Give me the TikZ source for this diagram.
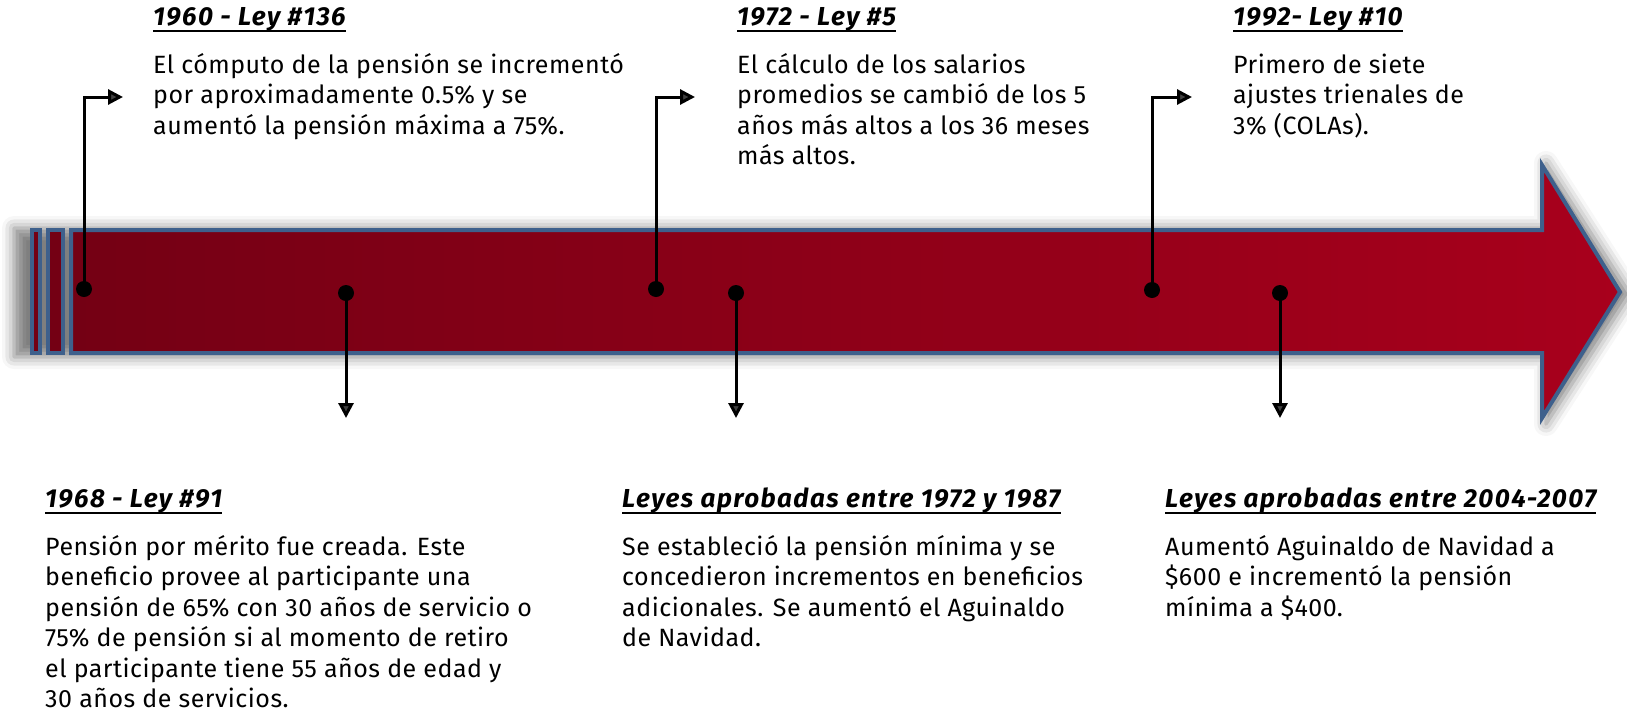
\documentclass[tikz,border=0pt]{standalone}
\usepackage{fontspec}
\setmainfont{Fira Sans}
\newfontfamily\bodyfont[LetterSpace=2]{Fira Sans}
\newfontfamily\headfont[LetterSpace=5.5]{Fira Sans}
\usetikzlibrary{arrows.meta,shadows.blur}
\definecolor{bord}{RGB}{62,96,140}
\definecolor{redL}{RGB}{116,0,20}
\definecolor{redR}{RGB}{168,0,28}
\tikzset{
  dot/.style={circle,fill=black,minimum size=16pt,inner sep=0pt},
  conn/.style={line width=3pt,-{Triangle[length=15pt,width=15pt]}},
  headtxt/.style={anchor=base west,inner sep=0pt,font=\headfont\fontsize{26}{30.5}\selectfont\bfseries\itshape},
  bodytxt/.style={anchor=base west,inner sep=0pt,font=\bodyfont\fontsize{25}{30.5}\selectfont},
  uline/.style={line width=2.5pt},
  band/.style={draw=bord,line width=4pt,left color=redL,right color=redR},
  stripe/.style={draw=bord,line width=4pt,fill=redL},
}
\begin{document}
\begin{tikzpicture}[x=1pt,y=-1pt]
\useasboundingbox (0,0) rectangle (1627,718);
% shadow
\path[blur shadow={shadow xshift=0pt,shadow yshift=0pt,shadow blur radius=12pt,shadow opacity=50}]
  (14,228) -- (1546,228) -- (1546,163) -- (1630,294) -- (1546,424) -- (1546,357) -- (14,357) -- cycle;
% stripes
\path[stripe] (32,230) rectangle (40,353);
\path[stripe] (48,230) rectangle (63,353);
% main arrow
\path[band] (71,230) -- (1542,230) -- (1542,165) -- (1620,292) -- (1542,418) -- (1542,353) -- (71,353) -- cycle;
% dots
\node[dot] (d1) at (84,289) {};
\node[dot] (d2) at (346,293) {};
\node[dot] (d3) at (656,289) {};
\node[dot] (d4) at (736,293) {};
\node[dot] (d5) at (1152,290) {};
\node[dot] (d6) at (1280,293) {};
\coordinate (e1) at (123,97);
\coordinate (e3) at (695,97);
\coordinate (e5) at (1192,97);
\coordinate (e2) at (346,418);
\coordinate (e4) at (736,418);
\coordinate (e6) at (1280,418);
\draw[conn] (d1.center) |- (e1);
\draw[conn] (d3.center) |- (e3);
\draw[conn] (d5.center) |- (e5);
\draw[conn] (d2.center) -- (e2);
\draw[conn] (d4.center) -- (e4);
\draw[conn] (d6.center) -- (e6);
% headings
\node[headtxt] (h1) at (153,25) {1960 - Ley \#136};
\node[headtxt] (h2) at (737,25) {1972 - Ley \#5};
\node[headtxt] (h3) at (1233,25) {1992- Ley \#10};
\node[headtxt] (h4) at (45,507) {1968 - Ley \#91};
\node[headtxt] (h5) at (622,507) {Leyes aprobadas entre 1972 y 1987};
\node[headtxt] (h6) at (1165,507) {Leyes aprobadas entre 2004-2007};
\foreach \h in {h1,h2,h3,h4,h5,h6}
  \draw[uline] ([yshift=-6pt]\h.base west) -- ([yshift=-6pt]\h.base east);
% bodies
\node[bodytxt] (b1) at (153,73) {\begin{tabular}[t]{@{}l@{}}El cómputo de la pensión se incrementó\\por aproximadamente 0.5\% y se\\aumentó la pensión máxima a 75\%.\end{tabular}};
\node[bodytxt] (b2) at (737,73) {\begin{tabular}[t]{@{}l@{}}El cálculo de los salarios\\promedios se cambió de los 5\\años más altos a los 36 meses\\más altos.\end{tabular}};
\node[bodytxt] (b3) at (1233,73) {\begin{tabular}[t]{@{}l@{}}Primero de siete\\ajustes trienales de\\3\% (COLAs).\end{tabular}};
\node[bodytxt] (b4) at (45,555) {\begin{tabular}[t]{@{}l@{}}Pensión por mérito fue creada. Este\\beneficio provee al participante una\\pensión de 65\% con 30 años de servicio o\\75\% de pensión si al momento de retiro\\el participante tiene 55 años de edad y\\30 años de servicios.\end{tabular}};
\node[bodytxt] (b5) at (622,555) {\begin{tabular}[t]{@{}l@{}}Se estableció la pensión mínima y se\\concedieron incrementos en beneficios\\adicionales. Se aumentó el Aguinaldo\\de Navidad.\end{tabular}};
\node[bodytxt] (b6) at (1165,555) {\begin{tabular}[t]{@{}l@{}}Aumentó Aguinaldo de Navidad a\\\$600 e incrementó la pensión\\mínima a \$400.\end{tabular}};
\end{tikzpicture}
\end{document}
